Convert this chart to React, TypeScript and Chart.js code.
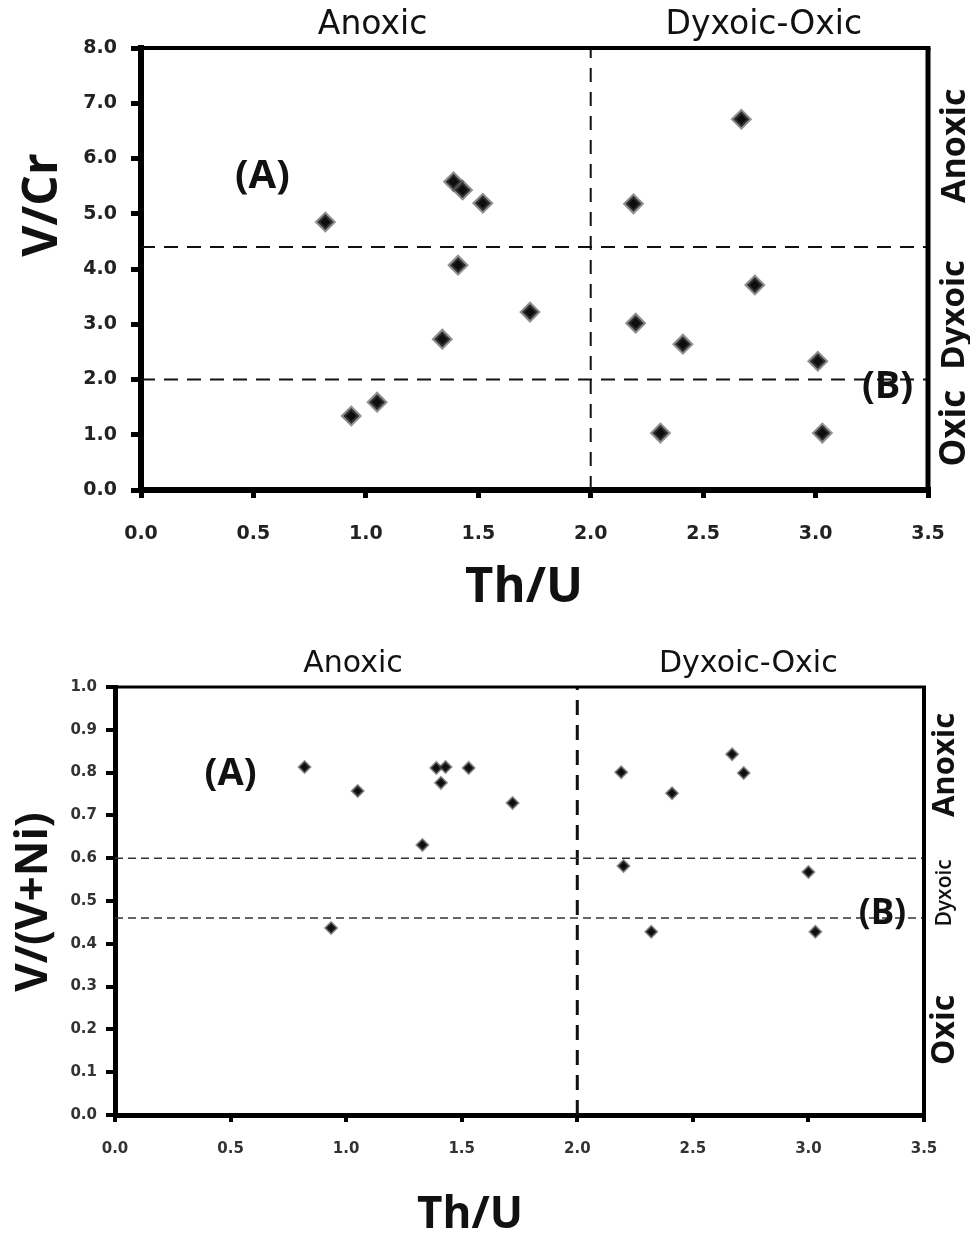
import React, { useEffect, useRef } from "react";
import { Chart, registerables } from "chart.js";
Chart.register(...registerables);

// ---------- data ----------
const thU_A = [0.82, 0.935, 1.05, 1.34, 1.39, 1.43, 1.41, 1.52, 1.73, 2.19, 2.2, 2.41, 2.31, 2.67, 2.73, 3.01, 3.03];
const vCr = [4.85, 1.34, 1.59, 2.73, 5.58, 5.43, 4.07, 5.19, 3.22, 5.18, 3.02, 2.64, 1.03, 6.71, 3.71, 2.33, 1.03];

const thU_B = [0.82, 0.935, 1.05, 1.33, 1.39, 1.41, 1.43, 1.53, 1.72, 2.19, 2.2, 2.32, 2.41, 2.67, 2.72, 3.0, 3.03];
const vVNi = [0.813, 0.437, 0.757, 0.631, 0.811, 0.776, 0.813, 0.811, 0.729, 0.801, 0.582, 0.428, 0.752, 0.843, 0.799, 0.568, 0.428];

const vCrThresholds = [4.4, 2.0];
const vVNiThresholds = [0.6, 0.46];
const thUThreshold = [2.0];

const xRange = [0, 3.5];
const xStep = 0.5;
const vCrRange = [0, 8];
const vCrStep = 1;
const vVNiRange = [0, 1];
const vVNiStep = 0.1;

const regionTop = ["Anoxic", "Dyxoic-Oxic"];
const regionRight = ["Anoxic", "Dyxoic", "Oxic"];

// ---------- overlay plugin (frame + texts) ----------
const overlayPlugin = {
  id: "overlay",
  afterDraw(chart: any, _args: any, o: any) {
    const { ctx, chartArea: a, scales } = chart;
    const xs = scales.x;
    const ys = scales.y;
    ctx.save();
    ctx.strokeStyle = "#000";
    ctx.lineWidth = o.frameTop;
    ctx.beginPath();
    ctx.moveTo(a.left, a.top);
    ctx.lineTo(a.right + o.frameRight / 2, a.top);
    ctx.stroke();
    ctx.lineWidth = o.frameRight;
    ctx.beginPath();
    ctx.moveTo(a.right, a.top);
    ctx.lineTo(a.right, a.bottom + 2);
    ctx.stroke();

    ctx.fillStyle = "#111";
    ctx.textAlign = "center";
    ctx.textBaseline = "middle";
    for (const t of o.top) {
      ctx.font = t.font;
      ctx.fillText(t.text, xs.getPixelForValue(t.x), a.top - o.topGap);
    }
    for (const t of o.right) {
      ctx.save();
      ctx.translate(a.right + o.rightGap, ys.getPixelForValue(t.y));
      ctx.rotate(-Math.PI / 2);
      ctx.font = t.font;
      ctx.fillText(t.text, 0, 0);
      ctx.restore();
    }
    for (const t of o.notes) {
      ctx.font = t.font;
      ctx.fillText(t.text, xs.getPixelForValue(t.x), ys.getPixelForValue(t.y));
    }
    // axis titles
    ctx.font = o.xTitle.font;
    ctx.fillText(o.xTitle.text, o.xTitle.cx, o.xTitle.cy);
    ctx.save();
    ctx.translate(o.yTitle.cx, o.yTitle.cy);
    ctx.rotate(-Math.PI / 2);
    ctx.font = o.yTitle.font;
    ctx.fillText(o.yTitle.text, 0, 0);
    ctx.restore();
    ctx.restore();
  },
};

function buildConfig(p: any) {
  const pts = p.xs.map((x: number, i: number) => ({ x, y: p.ys[i] }));
  const datasets: any[] = [
    {
      data: pts,
      pointStyle: "rectRot",
      pointRadius: p.pointRadius,
      pointBorderWidth: p.pointBorder,
      pointBackgroundColor: "#0d0d0d",
      pointBorderColor: "rgba(70,70,70,0.6)",
      showLine: false,
    },
  ];
  for (const t of p.hLines) {
    datasets.push({
      data: [
        { x: xRange[0], y: t },
        { x: xRange[1], y: t },
      ],
      showLine: true,
      pointRadius: 0,
      borderColor: p.hColor,
      borderWidth: p.hWidth,
      borderDash: p.hDash,
    });
  }
  for (const t of thUThreshold) {
    datasets.push({
      data: [
        { x: t, y: p.yRange[0] },
        { x: t, y: p.yRange[1] },
      ],
      showLine: true,
      pointRadius: 0,
      borderColor: "#111",
      borderWidth: p.vWidth,
      borderDash: p.vDash,
    });
  }
  const tickFont = { family: "'DejaVu Sans'", weight: "bold", size: p.tickSize };
  return {
    type: "scatter",
    data: { datasets },
    plugins: [overlayPlugin],
    options: {
      animation: false,
      responsive: false,
      devicePixelRatio: 1,
      events: [],
      layout: { padding: p.padding },
      plugins: {
        legend: { display: false },
        tooltip: { enabled: false },
        overlay: p.overlay,
      },
      scales: {
        x: {
          type: "linear",
          min: xRange[0],
          max: xRange[1],
          afterFit: (s: any) => {
            s.height = p.xAxisH;
          },
          ticks: {
            stepSize: xStep,
            callback: (v: number) => v.toFixed(1),
            font: tickFont,
            color: p.tickColor,
            padding: p.xTickPad,
            maxRotation: 0,
            autoSkip: false,
          },
          grid: {
            drawOnChartArea: false,
            drawTicks: true,
            tickLength: p.xTickLen,
            lineWidth: p.tickWidth,
            color: "#000",
          },
          border: { display: true, width: p.axisWidth, color: "#000" },
        },
        y: {
          type: "linear",
          min: p.yRange[0],
          max: p.yRange[1],
          afterFit: (s: any) => {
            s.width = p.yAxisW;
          },
          ticks: {
            stepSize: p.yStep,
            callback: (v: number) => v.toFixed(1),
            font: tickFont,
            color: p.tickColor,
            padding: p.yTickPad,
            autoSkip: false,
          },
          grid: {
            drawOnChartArea: false,
            drawTicks: true,
            tickLength: p.yTickLen,
            lineWidth: p.tickWidth,
            color: "#000",
          },
          border: { display: true, width: p.axisWidth, color: "#000" },
        },
      },
    },
  };
}

const topCfg = () =>
  buildConfig({
    xs: thU_A,
    ys: vCr,
    yRange: vCrRange,
    yStep: vCrStep,
    hLines: vCrThresholds,
    hColor: "#111",
    hWidth: 2,
    hDash: [14, 9],
    vWidth: 2,
    vDash: [14, 10],
    pointRadius: 8,
    pointBorder: 4,
    tickSize: 19,
    tickColor: "#222",
    padding: { left: 61, top: 48, right: 42, bottom: 70 },
    yAxisW: 80,
    xAxisH: 60,
    xTickPad: 25,
    xTickLen: 8,
    yTickPad: 14,
    yTickLen: 10,
    tickWidth: 5,
    axisWidth: 6,
    overlay: {
      frameTop: 4,
      frameRight: 5,
      topGap: 23,
      rightGap: 27,
      top: [
        { text: regionTop[0], x: 1.03, font: "33px 'DejaVu Sans'" },
        { text: regionTop[1], x: 2.77, font: "33px 'DejaVu Sans'" },
      ],
      right: [
        { text: regionRight[0], y: 6.23, font: "bold 34px 'Open Sans'" },
        { text: regionRight[1], y: 3.17, font: "bold 33px 'Open Sans'" },
        { text: regionRight[2], y: 1.12, font: "bold 35px 'Open Sans'" },
      ],
      notes: [
        { text: "(A)", x: 0.54, y: 5.68, font: "bold 40px 'Open Sans'" },
        { text: "(B)", x: 3.32, y: 1.86, font: "bold 38px 'Open Sans'" },
      ],
      xTitle: { text: "Th/U", cx: 524, cy: 588, font: "bold 49px 'Open Sans'" },
      yTitle: { text: "V/Cr", cx: 43, cy: 205, font: "bold 48px 'Open Sans'" },
    },
  });

const bottomCfg = () =>
  buildConfig({
    xs: thU_B,
    ys: vVNi,
    yRange: vVNiRange,
    yStep: vVNiStep,
    hLines: vVNiThresholds,
    hColor: "#333",
    hWidth: 1.5,
    hDash: [8, 5],
    vWidth: 3,
    vDash: [15, 10],
    pointRadius: 5.5,
    pointBorder: 2.5,
    tickSize: 15,
    tickColor: "#333",
    padding: { left: 45, top: 67, right: 46, bottom: 61 },
    yAxisW: 70,
    xAxisH: 60,
    xTickPad: 18,
    xTickLen: 7,
    yTickPad: 9,
    yTickLen: 9,
    tickWidth: 4,
    axisWidth: 5,
    overlay: {
      frameTop: 3,
      frameRight: 4,
      topGap: 23,
      rightGap: 21,
      top: [
        { text: regionTop[0], x: 1.03, font: "30px 'DejaVu Sans'" },
        { text: regionTop[1], x: 2.74, font: "30px 'DejaVu Sans'" },
      ],
      right: [
        { text: regionRight[0], y: 0.818, font: "bold 31px 'Open Sans'" },
        { text: regionRight[1], y: 0.519, font: "600 21px 'Open Sans'" },
        { text: regionRight[2], y: 0.199, font: "bold 32px 'Open Sans'" },
      ],
      notes: [
        { text: "(A)", x: 0.5, y: 0.797, font: "bold 38px 'Open Sans'" },
        { text: "(B)", x: 3.32, y: 0.47, font: "bold 35px 'Open Sans'" },
      ],
      xTitle: { text: "Th/U", cx: 470, cy: 595, font: "bold 44px 'Open Sans'" },
      yTitle: { text: "V/(V+Ni)", cx: 34, cy: 282, font: "bold 44px 'Open Sans'" },
    },
  });

function ChartCanvas({ make, width, height, top }: any) {
  const ref = useRef<HTMLCanvasElement | null>(null);
  useEffect(() => {
    if (!ref.current) return;
    const chart = new Chart(ref.current, make() as any);
    return () => chart.destroy();
  }, []);
  return (
    <canvas
      ref={ref}
      width={width}
      height={height}
      style={{ position: "absolute", left: 0, top, width, height, display: "block" }}
    />
  );
}

export default function App() {
  return (
    <div style={{ position: "absolute", left: 0, top: 0, width: 970, height: 1236, background: "#fff" }}>
      <ChartCanvas make={topCfg} width={970} height={620} top={0} />
      <ChartCanvas make={bottomCfg} width={970} height={616} top={620} />
    </div>
  );
}
